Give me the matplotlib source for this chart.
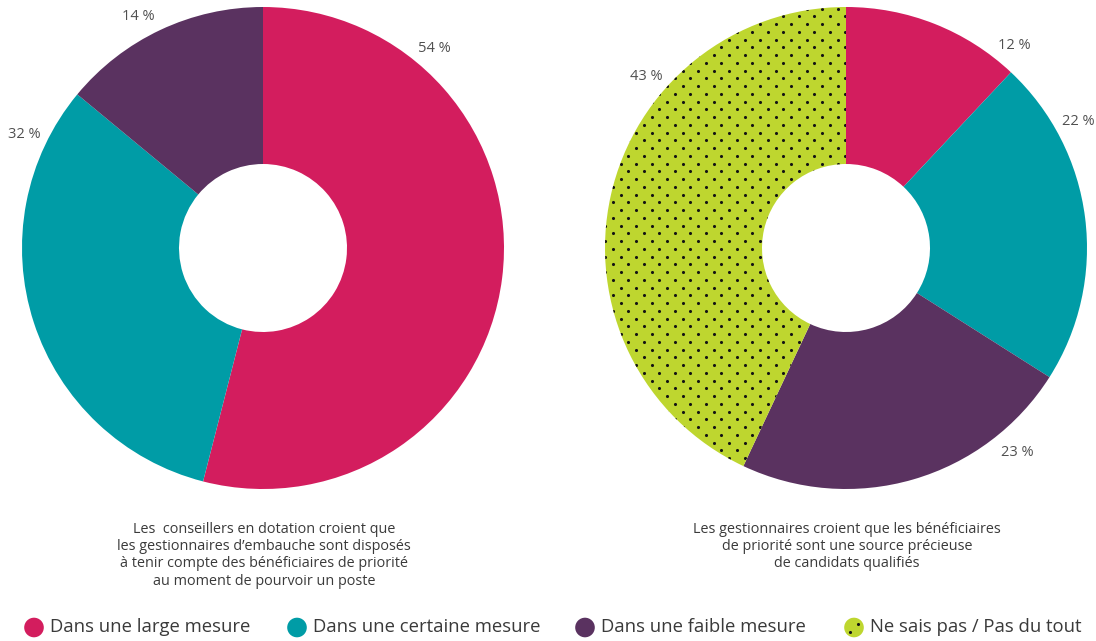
import numpy as np
import matplotlib.pyplot as plt
from matplotlib.patches import Circle

# Survey shares (%), clockwise from 12 o'clock
categories = ["Dans une large mesure", "Dans une certaine mesure",
              "Dans une faible mesure", "Ne sais pas / Pas du tout"]
advisors_values = [54, 32, 14]
managers_values = [12, 22, 23, 43]

advisors_caption = ("Les  conseillers en dotation croient que\n"
                    "les gestionnaires d\u2019embauche sont dispos\u00e9s\n"
                    "\u00e0 tenir compte des b\u00e9n\u00e9ficiaires de priorit\u00e9\n"
                    "au moment de pourvoir un poste")
managers_caption = ("Les gestionnaires croient que les b\u00e9n\u00e9ficiaires\n"
                    "de priorit\u00e9 sont une source pr\u00e9cieuse\n"
                    "de candidats qualifi\u00e9s")

colors = ["#D31D5E", "#009CA6", "#5A3260", "#BED62F"]
dotted = [False, False, False, True]

plt.rcParams["font.family"] = ["Open Sans", "DejaVu Sans"]

W, H = 1096, 641
fig = plt.figure(figsize=(W / 100, H / 100), dpi=100)

R_PX = 241.0
HOLE = 84.0 / R_PX
DOT_STEP = 15.5  # px between dots in a row; rows are staggered by half
DOT_SIZE = 5.0


def dot_grid(x0, x1, y0, y1, step):
    """Staggered dot lattice covering a box (units of the caller)."""
    pts = []
    half = step / 2.0
    ys = np.arange(y0, y1 + half, half)
    for i, y in enumerate(ys):
        off = 0.0 if i % 2 == 0 else half
        xs = np.arange(x0 + off, x1 + step, step)
        pts.append(np.column_stack([xs, np.full_like(xs, y)]))
    return np.vstack(pts)


def donut(cx, cy, values, label_angles):
    ax = fig.add_axes([(cx - R_PX) / W, (H - cy - R_PX) / H,
                       2 * R_PX / W, 2 * R_PX / H])
    wedges, _ = ax.pie(values, colors=colors[:len(values)], startangle=90,
                       counterclock=False, radius=1.0,
                       wedgeprops=dict(width=1 - HOLE, linewidth=0))
    ax.set_xlim(-1, 1)
    ax.set_ylim(-1, 1)
    ax.set_aspect("equal")
    ax.axis("off")

    grid = dot_grid(-1, 1, -1, 1, DOT_STEP / R_PX)
    for w, d in zip(wedges, dotted):
        if d:
            sc = ax.scatter(grid[:, 0], grid[:, 1], s=DOT_SIZE, c="#141414",
                            linewidths=0, zorder=3)
            sc.set_clip_path(w)

    for v, ang in zip(values, label_angles):
        a = np.deg2rad(ang)
        ax.text(1.1 * np.cos(a), 1.1 * np.sin(a) - 0.01, f"{v} %",
                ha="center", va="center", fontsize=10.5, color="#505050",
                clip_on=False)
    return ax


donut(263, 248, advisors_values, [49.6, 154, 118])
donut(846, 248, managers_values, [50.6, 29, -49.8, 139])

# overlay in pixel units for captions and legend
ov = fig.add_axes([0, 0, 1, 1])
ov.set_xlim(0, W)
ov.set_ylim(H, 0)
ov.axis("off")

ov.text(264, 522, advisors_caption, ha="center", va="top", fontsize=10.4,
        color="#3a3a3a", linespacing=1.2)
ov.text(847, 522, managers_caption, ha="center", va="top", fontsize=10.4,
        color="#3a3a3a", linespacing=1.2)

legend_x = [34, 297, 585, 854]
for x, name, col, d in zip(legend_x, categories, colors, dotted):
    c = Circle((x, 627.5), 9.8, facecolor=col, edgecolor="none")
    ov.add_patch(c)
    if d:
        pts = dot_grid(x - 16, x + 16, 627.5 - 16, 627.5 + 16, 15.5)
        sc = ov.scatter(pts[:, 0] + 4, pts[:, 1] - 3, s=DOT_SIZE, c="#141414",
                        linewidths=0, zorder=3)
        sc.set_clip_path(c)
    ov.text(x + 16, 627.5, name, ha="left", va="center", fontsize=13.3,
            color="#3a3a3a")

fig.savefig("out.png", dpi=100)
